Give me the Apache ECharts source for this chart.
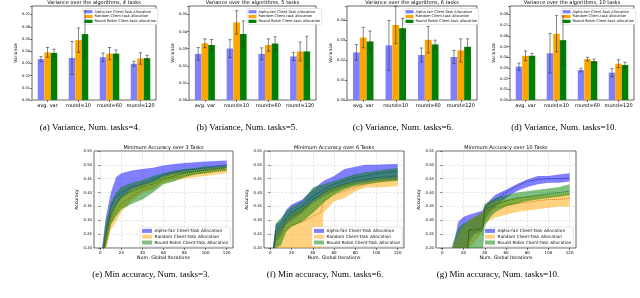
<!DOCTYPE html>
<html><head><meta charset="utf-8">
<script src="https://cdn.jsdelivr.net/npm/echarts@6/dist/echarts.min.js"></script>
<style>html,body{margin:0;padding:0;background:#fff}#c{width:640px;height:298px}</style>
</head><body><div id="c"></div>
<script>
// ---------- DATA ----------
const barCategories = ['avg. var', 'round=10', 'round=60', 'round=120'];
const varTicks = [0, 0.01, 0.02, 0.03, 0.04, 0.05, 0.06, 0.07, 0.08];
// (a) 4 tasks
const varA_alpha = [0.0335, 0.0345, 0.035, 0.0297];
const varA_alphaErr = [0.002, 0.0134, 0.0035, 0.002];
const varA_rand = [0.039, 0.049, 0.038, 0.034];
const varA_randErr = [0.004, 0.010, 0.005, 0.0047];
const varA_rr = [0.0386, 0.054, 0.038, 0.0343];
const varA_rrErr = [0.003, 0.019, 0.003, 0.0023];
// (b) 5 tasks
const varB_alpha = [0.027, 0.0301, 0.027, 0.0255];
const varB_alphaErr = [0.0037, 0.0052, 0.0035, 0.0024];
const varB_rand = [0.0332, 0.0454, 0.0322, 0.0284];
const varB_randErr = [0.0026, 0.0068, 0.0036, 0.0055];
const varB_rr = [0.0322, 0.0386, 0.033, 0.0284];
const varB_rrErr = [0.0032, 0.0077, 0.004, 0.0089];
// (c) 6 tasks
const varC_alpha = [0.0238, 0.0273, 0.0225, 0.0215];
const varC_alphaErr = [0.0039, 0.0125, 0.0035, 0.0033];
const varC_rand = [0.0312, 0.0375, 0.0301, 0.0248];
const varC_randErr = [0.0051, 0.0093, 0.0066, 0.0058];
const varC_rr = [0.0293, 0.0359, 0.0278, 0.0266];
const varC_rrErr = [0.0052, 0.0049, 0.0021, 0.004];
// (d) 10 tasks
const varD_alpha = [0.0312, 0.0438, 0.028, 0.0256];
const varD_alphaErr = [0.0034, 0.0185, 0.0017, 0.0037];
const varD_rand = [0.0414, 0.062, 0.0383, 0.034];
const varD_randErr = [0.0045, 0.017, 0.0017, 0.0037];
const varD_rr = [0.0414, 0.056, 0.0364, 0.0327];
const varD_rrErr = [0.0023, 0.0227, 0.0019, 0.0026];

const iterTicks = [0, 20, 40, 60, 80, 100, 120];
// (e) 3 tasks
const accE_iter = [0, 2, 5, 10, 15, 20, 30, 40, 50, 60, 70, 80, 90, 100, 110, 120];
const accE_alphaHi = [0.15, 0.21, 0.305, 0.40, 0.455, 0.47, 0.48, 0.485, 0.49, 0.498, 0.503, 0.507, 0.509, 0.512, 0.514, 0.516];
const accE_alphaMean = [0.125, 0.175, 0.25, 0.35, 0.385, 0.40, 0.42, 0.43, 0.445, 0.465, 0.473, 0.48, 0.485, 0.49, 0.495, 0.50];
const accE_alphaLo = [0.1, 0.15, 0.21, 0.305, 0.35, 0.38, 0.41, 0.425, 0.435, 0.455, 0.465, 0.47, 0.475, 0.48, 0.485, 0.49];
const accE_randHi = [0.125, 0.175, 0.26, 0.335, 0.365, 0.385, 0.415, 0.43, 0.44, 0.46, 0.47, 0.475, 0.48, 0.485, 0.49, 0.493];
const accE_randMean = [0.1, 0.15, 0.21, 0.29, 0.335, 0.36, 0.385, 0.41, 0.42, 0.445, 0.455, 0.46, 0.468, 0.473, 0.478, 0.48];
const accE_randLo = [0.1, 0.125, 0.185, 0.265, 0.295, 0.33, 0.37, 0.40, 0.41, 0.435, 0.445, 0.45, 0.455, 0.46, 0.465, 0.47];
const accE_rrHi = [0.14, 0.2, 0.285, 0.365, 0.40, 0.42, 0.435, 0.445, 0.46, 0.47, 0.48, 0.485, 0.49, 0.495, 0.495, 0.50];
const accE_rrMean = [0.12, 0.16, 0.25, 0.325, 0.36, 0.385, 0.405, 0.42, 0.43, 0.45, 0.46, 0.47, 0.475, 0.48, 0.485, 0.49];
const accE_rrLo = [0.1, 0.13, 0.2, 0.285, 0.315, 0.34, 0.36, 0.375, 0.40, 0.43, 0.44, 0.455, 0.465, 0.47, 0.475, 0.48];
// (f) 6 tasks
const accF_iter = [0, 2, 5, 10, 15, 20, 30, 40, 48, 50, 60, 70, 80, 90, 100, 110, 120];
const accF_alphaHi = [0.15, 0.19, 0.283, 0.30, 0.338, 0.357, 0.375, 0.41, 0.435, 0.442, 0.46, 0.485, 0.493, 0.50, 0.50, 0.502, 0.503];
const accF_alphaMean = [0.12, 0.17, 0.259, 0.277, 0.308, 0.326, 0.35, 0.387, 0.405, 0.411, 0.43, 0.442, 0.454, 0.46, 0.469, 0.473, 0.476];
const accF_alphaLo = [0.10, 0.15, 0.222, 0.246, 0.283, 0.30, 0.326, 0.363, 0.38, 0.387, 0.405, 0.418, 0.43, 0.436, 0.442, 0.445, 0.448];
const accF_randHi = [0.10, 0.15, 0.246, 0.277, 0.30, 0.32, 0.344, 0.369, 0.39, 0.40, 0.418, 0.43, 0.436, 0.442, 0.448, 0.451, 0.454];
const accF_randMean = [0.08, 0.13, 0.222, 0.246, 0.27, 0.283, 0.295, 0.314, 0.33, 0.369, 0.393, 0.405, 0.418, 0.43, 0.436, 0.442, 0.448];
const accF_randLo = [0.05, 0.10, 0.19, 0.15, 0.15, 0.15, 0.15, 0.15, 0.15, 0.326, 0.369, 0.38, 0.405, 0.418, 0.418, 0.42, 0.424];
const accF_rrHi = [0.12, 0.18, 0.289, 0.308, 0.332, 0.35, 0.369, 0.418, 0.428, 0.43, 0.442, 0.454, 0.466, 0.473, 0.479, 0.484, 0.489];
const accF_rrMean = [0.10, 0.15, 0.246, 0.264, 0.295, 0.314, 0.338, 0.375, 0.395, 0.40, 0.418, 0.43, 0.442, 0.448, 0.454, 0.457, 0.46];
const accF_rrLo = [0.08, 0.12, 0.2, 0.21, 0.259, 0.277, 0.295, 0.326, 0.355, 0.363, 0.393, 0.411, 0.424, 0.43, 0.436, 0.44, 0.442];
// (g) 10 tasks
const accG_iter = [0, 10, 15, 20, 24, 25, 30, 38, 40, 45, 50, 60, 70, 80, 90, 100, 110, 120];
const accG_alphaHi = [0.10, 0.2, 0.295, 0.313, 0.318, 0.32, 0.325, 0.335, 0.35, 0.374, 0.392, 0.41, 0.43, 0.447, 0.46, 0.46, 0.465, 0.47];
const accG_alphaMean = [0.08, 0.15, 0.17, 0.185, 0.19, 0.265, 0.265, 0.27, 0.35, 0.36, 0.374, 0.40, 0.423, 0.44, 0.447, 0.45, 0.45, 0.452];
const accG_alphaLo = [0.05, 0.15, 0.16, 0.18, 0.2, 0.22, 0.25, 0.26, 0.30, 0.33, 0.35, 0.38, 0.405, 0.42, 0.43, 0.435, 0.435, 0.44];
const accG_randHi = [0.08, 0.2, 0.25, 0.28, 0.29, 0.30, 0.31, 0.33, 0.34, 0.36, 0.37, 0.375, 0.38, 0.385, 0.39, 0.39, 0.395, 0.40];
const accG_randMean = [0.06, 0.14, 0.16, 0.18, 0.19, 0.265, 0.265, 0.268, 0.33, 0.34, 0.345, 0.355, 0.36, 0.365, 0.37, 0.375, 0.375, 0.38];
const accG_randLo = [0.04, 0.12, 0.14, 0.16, 0.18, 0.2, 0.22, 0.26, 0.29, 0.30, 0.31, 0.32, 0.33, 0.335, 0.34, 0.345, 0.35, 0.35];
const accG_rrHi = [0.08, 0.22, 0.27, 0.29, 0.295, 0.30, 0.31, 0.33, 0.36, 0.37, 0.38, 0.39, 0.40, 0.405, 0.41, 0.415, 0.42, 0.43];
const accG_rrMean = [0.06, 0.14, 0.16, 0.18, 0.19, 0.265, 0.265, 0.27, 0.34, 0.348, 0.355, 0.37, 0.38, 0.385, 0.39, 0.395, 0.40, 0.405];
const accG_rrLo = [0.04, 0.10, 0.11, 0.12, 0.14, 0.15, 0.17, 0.19, 0.28, 0.31, 0.33, 0.35, 0.36, 0.37, 0.375, 0.38, 0.385, 0.39];

// ---------- BUILD ----------
const FONT = 'DejaVu Sans';
const barNames = ['Alpha-fair Client-Task Allocation', 'Random Client-task allocation', 'Round Robin Client-task allocation'];
const barColors = ['#8080ff', '#ffa500', '#008000'];
const accNames = ['Alpha-fair Client-Task Allocation', 'Random Client-Task Allocation', 'Round Robin Client-Task Allocation'];
const bandColors = ['rgba(0,0,255,0.5)', 'rgba(255,165,0,0.5)', 'rgba(0,128,0,0.5)'];
const legendBandColors = ['#8080ff', '#ffd280', '#80bf80'];
const meanColors = ['#1a1a8c', '#d07000', '#0b5c0b'];
const CAT_GAP = 0.37;

const grids = [], xAxes = [], yAxes = [], series = [], titles = [], legends = [];

const topPanels = [
  {left: 32, width: 124, max: 0.077, nameGap: 12, title: 'Variance over the algorithms, 4 tasks',
   d: [varA_alpha, varA_rand, varA_rr], e: [varA_alphaErr, varA_randErr, varA_rrErr], legLeft: 83, cap: '(a) Variance, Num. tasks=4.', capX: 90},
  {left: 189, width: 127, max: 0.055, nameGap: 9, title: 'Variance over the algorithms, 5 tasks',
   d: [varB_alpha, varB_rand, varB_rr], e: [varB_alphaErr, varB_randErr, varB_rrErr], legLeft: 247, cap: '(b) Variance, Num. tasks=5.', capX: 247},
  {left: 347, width: 130, max: 0.047, nameGap: 12, title: 'Variance over the algorithms, 6 tasks',
   d: [varC_alpha, varC_rand, varC_rr], e: [varC_alphaErr, varC_randErr, varC_rrErr], legLeft: 404, cap: '(c) Variance, Num. tasks=6.', capX: 403},
  {left: 510, width: 124, max: 0.088, nameGap: 12, title: 'Variance over the algorithms, 10 tasks',
   d: [varD_alpha, varD_rand, varD_rr], e: [varD_alphaErr, varD_randErr, varD_rrErr], legLeft: 561, cap: '(d) Variance, Num. tasks=10.', capX: 564}
];

topPanels.forEach((p, i) => {
  grids.push({left: p.left, top: 6, width: p.width, height: 94, show: true, borderColor: '#000', borderWidth: 0.6, backgroundColor: 'transparent'});
  xAxes.push({type: 'category', gridIndex: i, data: barCategories,
    axisLine: {show: false}, axisTick: {show: true, alignWithLabel: true, interval: 0, length: 2, lineStyle: {color: '#000', width: 0.5}},
    axisLabel: {fontSize: 5, fontFamily: FONT, color: '#000', margin: 3, interval: 0}, splitLine: {show: false}});
  yAxes.push({type: 'value', gridIndex: i, min: 0, max: p.max, interval: 0.01,
    name: 'Variance', nameLocation: 'middle', nameGap: p.nameGap, nameRotate: 90,
    nameTextStyle: {fontSize: 4.5, fontFamily: FONT, color: '#000'},
    axisLine: {show: false}, axisTick: {show: true, length: 2, lineStyle: {color: '#000', width: 0.5}},
    axisLabel: {fontSize: 3.6, fontFamily: FONT, color: '#000', margin: 2,
      formatter: v => varTicks.some(t => Math.abs(t - v) < 1e-9) ? v.toFixed(2) : ''},
    splitLine: {show: false}});
  p.d.forEach((arr, k) => {
    series.push({type: 'bar', name: barNames[k], xAxisIndex: i, yAxisIndex: i, data: arr,
      itemStyle: {color: barColors[k]}, barGap: '0%', barCategoryGap: (CAT_GAP * 100) + '%', z: 2});
  });
  const errData = [];
  p.d.forEach((arr, k) => arr.forEach((v, c) => errData.push([c, v, p.e[k][c], k])));
  series.push({type: 'custom', xAxisIndex: i, yAxisIndex: i, data: errData, encode: {x: 0, y: 1}, z: 5, silent: true,
    renderItem: (params, api) => {
      const c = api.value(0), v = api.value(1), e = api.value(2), k = api.value(3);
      const base = api.coord([c, v]);
      const catW = api.size([1, 0])[0];
      const bw = catW * (1 - CAT_GAP) / 3;
      const x = base[0] + (k - 1) * bw;
      const yt = api.coord([c, v + e])[1], yb = api.coord([c, v - e])[1];
      const st = {stroke: '#333', lineWidth: 0.7, opacity: 0.85};
      const cap = 1.6;
      return {type: 'group', children: [
        {type: 'line', shape: {x1: x, y1: yt, x2: x, y2: yb}, style: st},
        {type: 'line', shape: {x1: x - cap, y1: yt, x2: x + cap, y2: yt}, style: st},
        {type: 'line', shape: {x1: x - cap, y1: yb, x2: x + cap, y2: yb}, style: st}
      ]};
    }});
  titles.push({text: p.title, left: p.left + p.width / 2, top: 0.6, textAlign: 'center', padding: 0,
    textStyle: {fontSize: 5, fontWeight: 'normal', fontFamily: FONT, color: '#000', lineHeight: 5}});
  titles.push({text: p.cap, left: p.capX, top: 123, textAlign: 'center', padding: 0,
    textStyle: {fontSize: 9, fontWeight: 'normal', fontFamily: 'Liberation Serif', color: '#000', lineHeight: 9}});
  legends.push({orient: 'vertical', left: p.legLeft, top: 8.5, selectedMode: false, icon: 'rect',
    data: barNames.map((n, k) => ({name: n, itemStyle: {color: barColors[k], borderWidth: 0}})),
    itemWidth: 8, itemHeight: 3.2, itemGap: 0.7, padding: [1.2, 1.5, 1.2, 1.5],
    backgroundColor: '#fff', borderColor: '#ccc', borderWidth: 0.5, borderRadius: 1,
    textStyle: {fontSize: 3.6, lineHeight: 4.1, fontFamily: FONT, color: '#111', padding: [0, 0, 0, -3]}});
});

const botPanels = [
  {left: 94, width: 139, title: 'Minimum Accuracy over 3 Tasks', it: accE_iter,
   hi: [accE_alphaHi, accE_randHi, accE_rrHi], mean: [accE_alphaMean, accE_randMean, accE_rrMean], lo: [accE_alphaLo, accE_randLo, accE_rrLo],
   legLeft: 140, cap: '(e) Min accuracy, Num. tasks=3.', capX: 151},
  {left: 264, width: 140, title: 'Minimum Accuracy over 6 Tasks', it: accF_iter,
   hi: [accF_alphaHi, accF_randHi, accF_rrHi], mean: [accF_alphaMean, accF_randMean, accF_rrMean], lo: [accF_alphaLo, accF_randLo, accF_rrLo],
   legLeft: 312, cap: '(f) Min accuracy, Num. tasks=6.', capX: 325},
  {left: 436, width: 140, title: 'Minimum Accuracy over 10 Tasks', it: accG_iter,
   hi: [accG_alphaHi, accG_randHi, accG_rrHi], mean: [accG_alphaMean, accG_randMean, accG_rrMean], lo: [accG_alphaLo, accG_randLo, accG_rrLo],
   legLeft: 483, cap: '(g) Min accuracy, Num. tasks=10.', capX: 498}
];

function bandRenderer(it, lo, hi, color) {
  return (params, api) => {
    const cs = params.coordSys;
    const pts = [];
    for (let n = 0; n < it.length; n++) pts.push(api.coord([it[n], hi[n]]));
    for (let n = it.length - 1; n >= 0; n--) pts.push(api.coord([it[n], lo[n]]));
    return {type: 'polygon', shape: {points: pts}, style: {fill: color, stroke: null},
      clipPath: {type: 'rect', shape: {x: cs.x, y: cs.y, width: cs.width, height: cs.height}}};
  };
}

botPanels.forEach((p, j) => {
  const i = 4 + j;
  grids.push({left: p.left, top: 151, width: p.width, height: 97, show: true, borderColor: '#000', borderWidth: 0.6, backgroundColor: 'transparent'});
  xAxes.push({type: 'value', gridIndex: i, min: -6, max: 126,
    name: 'Num. Global Iterations', nameLocation: 'middle', nameGap: 7.5,
    nameTextStyle: {fontSize: 4.7, fontFamily: FONT, color: '#000'},
    axisLine: {show: false},
    axisTick: {show: true, length: 2, customValues: iterTicks, lineStyle: {color: '#000', width: 0.5}},
    axisLabel: {fontSize: 4, fontFamily: FONT, color: '#000', margin: 2.5, customValues: iterTicks},
    splitLine: {show: true, lineStyle: {color: '#c8c8c8', width: 0.5, type: [2, 1.5]}}});
  yAxes.push({type: 'value', gridIndex: i, min: 0.2, max: 0.55, interval: 0.05,
    name: 'Accuracy', nameLocation: 'middle', nameGap: 12, nameRotate: 90,
    nameTextStyle: {fontSize: 4.5, fontFamily: FONT, color: '#000'},
    axisLine: {show: false}, axisTick: {show: true, length: 2, lineStyle: {color: '#000', width: 0.5}},
    axisLabel: {fontSize: 3.8, fontFamily: FONT, color: '#000', margin: 2, formatter: v => v.toFixed(2)},
    splitLine: {show: true, lineStyle: {color: '#c8c8c8', width: 0.5, type: [2, 1.5]}}});
  for (let k = 0; k < 3; k++) {
    series.push({type: 'custom', name: accNames[k], xAxisIndex: i, yAxisIndex: i,
      data: [[p.it[0], p.hi[k][0]]], encode: {x: 0, y: 1}, silent: true, z: 2 + k,
      itemStyle: {color: legendBandColors[k]},
      renderItem: bandRenderer(p.it, p.lo[k], p.hi[k], bandColors[k])});
    series.push({type: 'line', name: '_mean' + i + k, xAxisIndex: i, yAxisIndex: i, symbol: 'none',
      data: p.it.map((x, n) => [x, p.mean[k][n]]),
      lineStyle: {width: 0.9, color: meanColors[k], type: [1, 1]}, silent: true, z: 2 + k});
  }
  titles.push({text: p.title, left: p.left + p.width / 2, top: 145.5, textAlign: 'center', padding: 0,
    textStyle: {fontSize: 5, fontWeight: 'normal', fontFamily: FONT, color: '#000', lineHeight: 5}});
  titles.push({text: p.cap, left: p.capX, top: 270.5, textAlign: 'center', padding: 0,
    textStyle: {fontSize: 9, fontWeight: 'normal', fontFamily: 'Liberation Serif', color: '#000', lineHeight: 9}});
  legends.push({orient: 'vertical', left: p.legLeft, top: 227, selectedMode: false, icon: 'rect',
    data: accNames.map((n, k) => ({name: n, itemStyle: {color: legendBandColors[k], borderWidth: 0}})),
    itemWidth: 10, itemHeight: 4, itemGap: 1, padding: [1.5, 2, 1.5, 2],
    backgroundColor: '#fff', borderColor: '#ccc', borderWidth: 0.5, borderRadius: 1,
    textStyle: {fontSize: 4.3, lineHeight: 4.8, fontFamily: FONT, color: '#111', padding: [0, 0, 0, -2.5]}});
});

const chart = echarts.init(document.getElementById('c'), null, {renderer: 'canvas', width: 640, height: 298});
chart.setOption({
  animation: false,
  backgroundColor: '#fff',
  title: titles,
  legend: legends,
  grid: grids,
  xAxis: xAxes,
  yAxis: yAxes,
  series: series
});
</script>
</body></html>
